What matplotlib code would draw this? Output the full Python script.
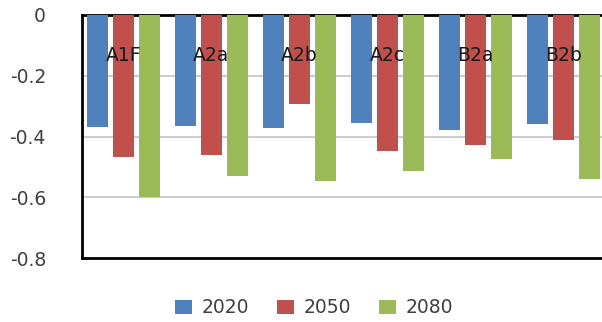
import matplotlib
matplotlib.use("Agg")
import matplotlib.pyplot as plt
import numpy as np
from matplotlib.patches import Patch

categories = ["A1F", "A2a", "A2b", "A2c", "B2a", "B2b"]
series_names = ["2020", "2050", "2080"]
v2020 = [-0.370, -0.365, -0.373, -0.354, -0.379, -0.358]
v2050 = [-0.468, -0.462, -0.293, -0.448, -0.429, -0.412]
v2080 = [-0.598, -0.529, -0.547, -0.512, -0.474, -0.540]
yticks = [0, -0.2, -0.4, -0.6, -0.8]
ytick_labels = ["0", "-0.2", "-0.4", "-0.6", "-0.8"]

colors = ["#4F81BD", "#C0504D", "#9BBB59"]
text_color = "#404040"

plt.rcParams["font.family"] = ["DejaVu Sans"]

fig = plt.figure(figsize=(6.02, 3.22), dpi=100)
ax = fig.add_axes([82 / 602, 64 / 322, 528 / 602, 243 / 322])

x = np.arange(len(categories))
step = 0.293
width = 0.24
for i, (vals, c) in enumerate(zip([v2020, v2050, v2080], colors)):
    ax.bar(x + (i - 1) * step, vals, width=width, color=c, zorder=3)

ax.set_xlim(-0.47, len(categories) - 0.47)
ax.set_ylim(-0.8, 0)
ax.set_yticks(yticks)
ax.set_yticklabels(ytick_labels, fontsize=13.5, color=text_color)
ax.set_xticks([])
ax.tick_params(axis="y", length=0, pad=26)

for yv in [-0.2, -0.4, -0.6]:
    ax.axhline(yv, color="#C4C4C4", lw=1.2, zorder=1)

for s in ["top", "bottom", "left"]:
    ax.spines[s].set_linewidth(2)
    ax.spines[s].set_color("black")
ax.spines["right"].set_visible(False)

for xi, cat in zip(x, categories):
    ax.text(xi, -0.132, cat, ha="center", va="center", fontsize=13.5,
            color="#1a1a1a", zorder=4)

handles = [Patch(facecolor=c, edgecolor="none") for c in colors]
fig.legend(handles, series_names, loc="center", bbox_to_anchor=(0.522, 0.0435),
           ncol=3, frameon=False, fontsize=13.5, handlelength=0.9,
           handleheight=0.75, handletextpad=0.5, columnspacing=1.5,
           labelcolor=text_color)

fig.savefig("out.png", dpi=100)
